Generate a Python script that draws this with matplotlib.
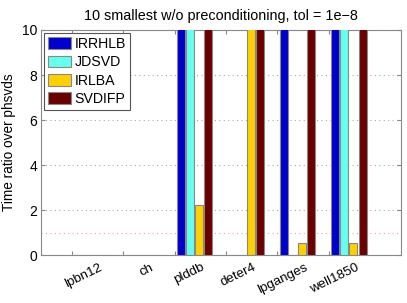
import matplotlib
matplotlib.use("Agg")
import matplotlib.pyplot as plt
import matplotlib.transforms as mtransforms
import numpy as np

plt.rcParams["font.family"] = ["Liberation Sans", "DejaVu Sans"]

# ============================================
# DATA (values above 10 are clipped by the axis)
# ============================================
matrices = ["lpbn12", "ch", "plddb", "deter4", "lpganges", "well1850"]
solvers = ["IRRHLB", "JDSVD", "IRLBA", "SVDIFP"]
irrhlb = [0, 0, 15, 0, 15, 15]
jdsvd = [0, 0, 15, 0, 0, 15]
irlba = [0, 0, 2.22, 15, 0.53, 0.53]
svdifp = [0, 0, 15, 15, 15, 15]

COLORS = ["#0000CD", "#66FFEE", "#FFD000", "#6B0000"]


def main():
    fig = plt.figure(figsize=(4.07, 3.03), dpi=100)
    ax = fig.add_axes([0.1007, 0.1574, 0.8843, 0.7436])

    x = np.arange(1, len(matrices) + 1)
    width = 0.156
    offsets = [0.117, 0.297, 0.477, 0.657]
    for vals, off, col, name in zip([irrhlb, jdsvd, irlba, svdifp], offsets, COLORS, solvers):
        vals = np.array(vals, dtype=float)
        ax.bar(x + off, vals, width=width, color=col, edgecolor="#888888",
               linewidth=0.8, label=name, zorder=3)

    # reference line at ratio 1
    ax.axhline(1, color="#ff9999", linestyle=(0, (1, 3)), linewidth=0.8, zorder=2)

    ax.set_xlim(0.4, 7.4)
    ax.set_ylim(0, 10)
    ax.set_yticks([0, 2, 4, 6, 8, 10])
    ax.set_xticks(x)
    ax.set_xticklabels([])
    # rotated labels, right end placed to the right of each tick
    shift = mtransforms.ScaledTranslation(0, -0.06, fig.dpi_scale_trans)
    trans = ax.get_xaxis_transform() + shift
    for xi, name in zip(x, matrices):
        ax.text(xi + 0.52, 0, name, transform=trans, rotation=26, ha="right",
                va="top", rotation_mode="anchor", fontsize=9.6)
    ax.tick_params(axis="y", labelsize=10, pad=2.7)
    ax.tick_params(direction="in", length=3, top=True, right=True, color="#888888")
    ax.yaxis.grid(True, color="#aaaaaa", linestyle=(0, (1, 3)), linewidth=0.8)
    for s in ax.spines.values():
        s.set_color("#888888")

    ax.set_ylabel("Time ratio over phsvds", fontsize=9.8, labelpad=4)
    ax.set_title("10 smallest w/o preconditioning, tol = 1e\u22128", fontsize=10.4, pad=7)

    leg = ax.legend(loc="upper left", fontsize=10.2, fancybox=False, framealpha=1,
                    edgecolor="#555555", handlelength=1.65, handleheight=0.9,
                    handletextpad=0.2, labelspacing=0.3, borderpad=0.3,
                    borderaxespad=0.2)
    leg.get_frame().set_linewidth(0.8)

    fig.savefig("out.png", dpi=100)
    plt.close(fig)


if __name__ == "__main__":
    main()
